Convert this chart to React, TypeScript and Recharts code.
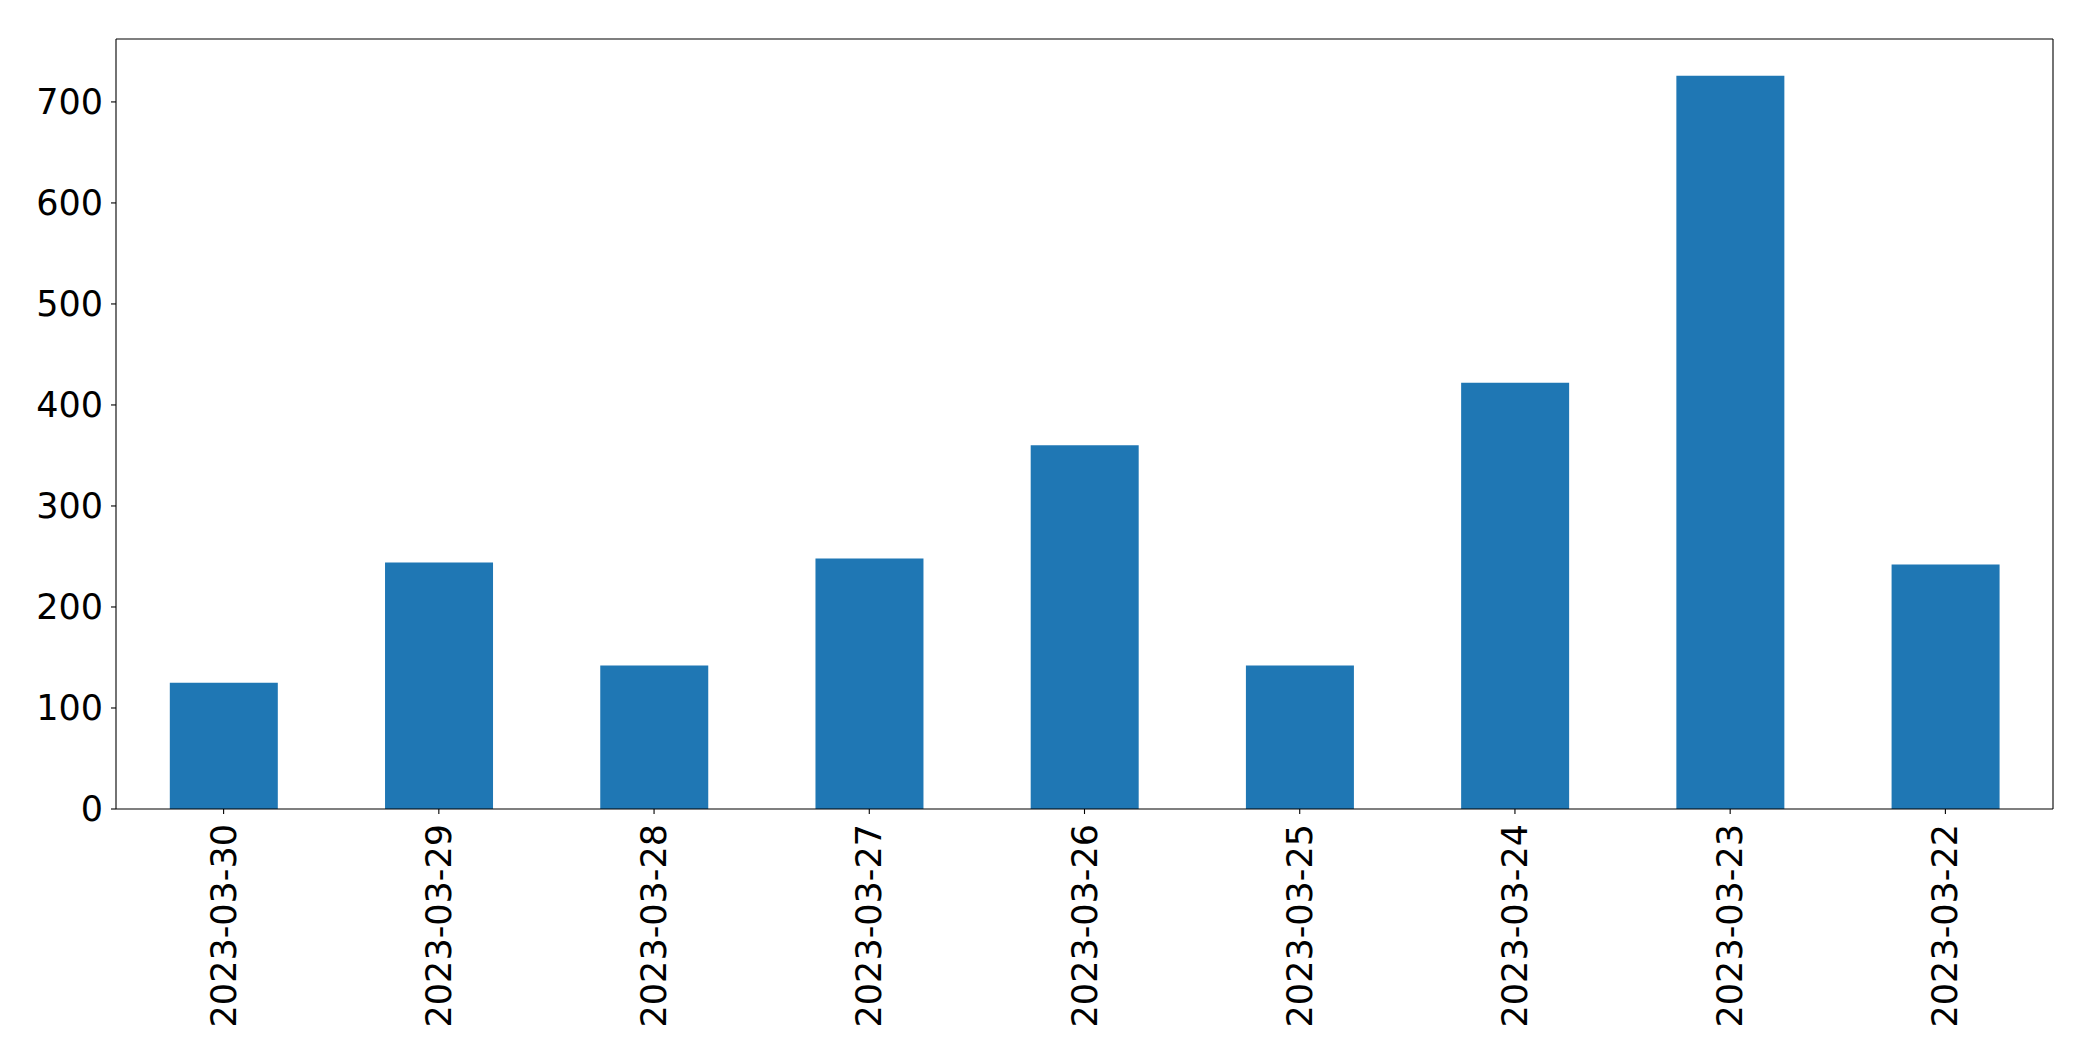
import { ComposedChart, Bar, Line, XAxis, YAxis } from 'recharts';

const dates = [
    '2023-03-30', '2023-03-29', '2023-03-28', '2023-03-27', '2023-03-26',
    '2023-03-25', '2023-03-24', '2023-03-23', '2023-03-22',
];
const counts = [125, 244, 142, 248, 360, 142, 422, 726, 242];
const yTicks = [0, 100, 200, 300, 400, 500, 600, 700];

const data = dates.map((d, i) => ({ date: d, count: counts[i] }));

const FONT = 'DejaVu Sans, sans-serif';
const yDomain = [0, 762.3];

function DateTick(props: any) {
    const { x, y, payload } = props;
    return (
        <text
            x={x}
            y={y}
            transform={`rotate(-90, ${x}, ${y})`}
            textAnchor="end"
            dominantBaseline="central"
            fontFamily={FONT}
            fontSize={35}
            fill="#000"
        >
            {payload.value}
        </text>
    );
}

export default function App() {
    return (
        <div style={{ position: 'absolute', left: 0, top: 0, background: '#fff' }}>
            <ComposedChart
                width={2093}
                height={1061}
                data={data}
                margin={{ top: 38, right: 39, left: 0, bottom: 0 }}
                barCategoryGap="25%"
            >
                <XAxis
                    dataKey="date"
                    height={252}
                    interval={0}
                    tick={<DateTick />}
                    tickSize={5}
                    tickMargin={10}
                    axisLine={{ stroke: '#000', strokeWidth: 1.1 }}
                    tickLine={{ stroke: '#000', strokeWidth: 1.1 }}
                />
                {/* top + right spines, like the matplotlib frame */}
                <XAxis
                    xAxisId="top"
                    dataKey="date"
                    orientation="top"
                    height={1}
                    tick={false}
                    tickLine={false}
                    axisLine={{ stroke: '#000', strokeWidth: 1.1 }}
                />
                <YAxis
                    width={116}
                    domain={yDomain}
                    ticks={yTicks}
                    tickSize={5}
                    tickMargin={8}
                    tick={{ fontFamily: FONT, fontSize: 35, fill: '#000' }}
                    axisLine={{ stroke: '#000', strokeWidth: 1.1 }}
                    tickLine={{ stroke: '#000', strokeWidth: 1.1 }}
                />
                <YAxis
                    yAxisId="right"
                    orientation="right"
                    width={1}
                    domain={yDomain}
                    tick={false}
                    tickLine={false}
                    axisLine={{ stroke: '#000', strokeWidth: 1.1 }}
                />
                <Bar dataKey="count" fill="#1f77b4" isAnimationActive={false} />
                <Line
                    xAxisId="top"
                    yAxisId="right"
                    dataKey="count"
                    stroke="none"
                    dot={false}
                    activeDot={false}
                    legendType="none"
                    isAnimationActive={false}
                />
            </ComposedChart>
        </div>
    );
}
